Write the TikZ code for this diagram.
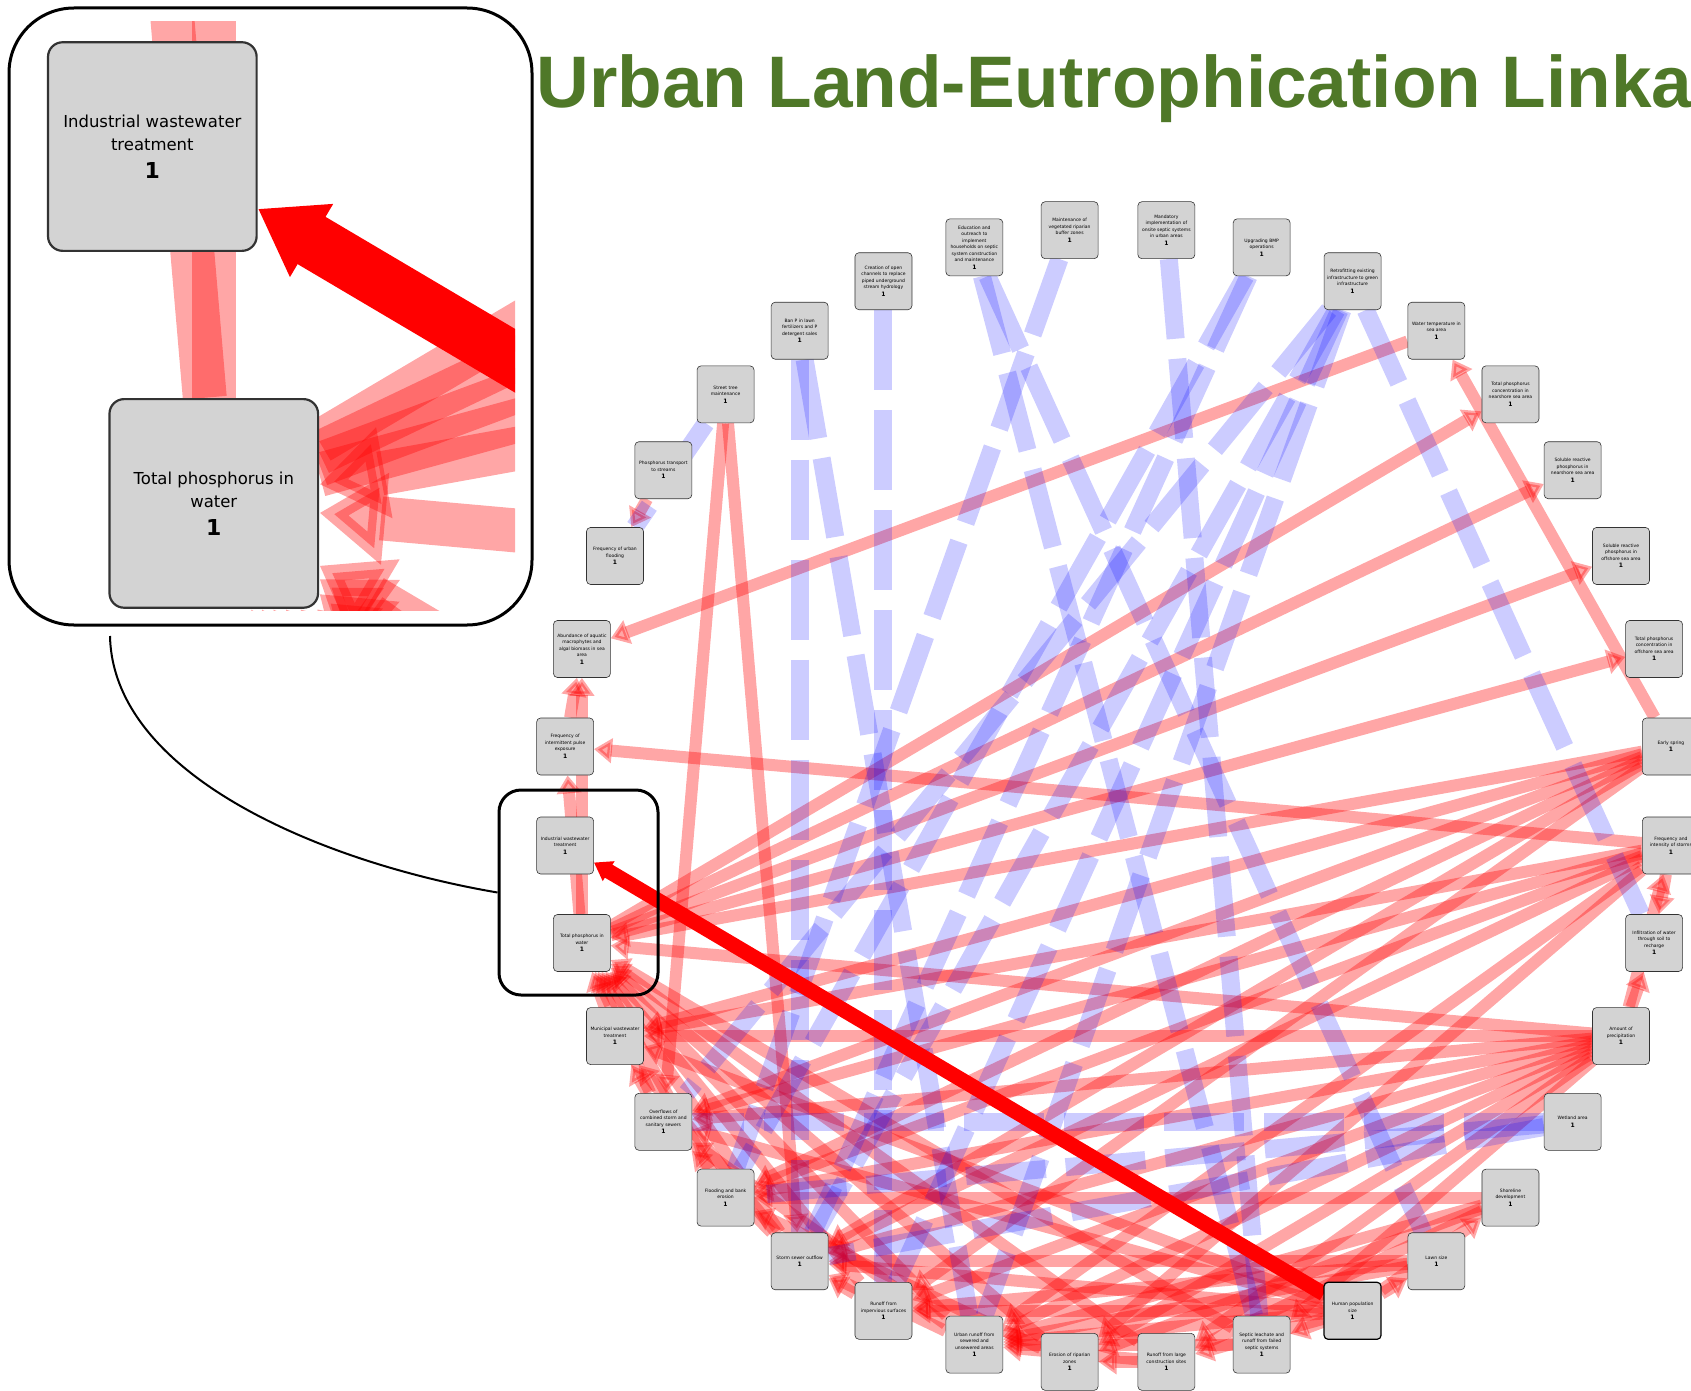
\documentclass[tikz,border=0pt]{standalone}
\usepackage{fontspec}
\newfontfamily\titlefont{Liberation Sans}
\newfontfamily\boxfont{DejaVu Sans}
\usetikzlibrary{arrows.meta}

\definecolor{titlegreen}{RGB}{79,120,40}
\definecolor{boxgray}{RGB}{211,211,211}

\tikzset{every picture/.style={line width=0.75pt},
  spot/.style={rectangle, minimum width=57pt, minimum height=57pt, inner sep=0pt},
  factor/.style={rectangle, rounded corners=4pt, fill=boxgray, draw=black!80, line width=0.6pt,
    minimum width=57pt, minimum height=57pt, inner sep=2pt, text width=51pt, align=flush center,
    font={\boxfont\fontsize{4.5}{6.5}\selectfont\hyphenpenalty=10000\relax\exhyphenpenalty=10000\relax}},
  poslink/.style={draw=red, opacity=0.35, line width=12pt, -{Triangle[width=24pt,length=18pt]}},
  neglink/.style={draw=blue, opacity=0.2, line width=18pt, dash pattern=on 80pt off 20pt},
  keylink/.style={draw=red, line width=15pt, -{Triangle[width=22pt,length=17pt]}},
  frame/.style={draw, line width=3pt},
}

\newif\ifzoomview

\newcommand\factorlist{%
{Education and outreach to implement households on septic system construction and maintenance},
{Maintenance of vegetated riparian buffer zones},
{Mandatory implementation of onsite septic systems in urban areas},
{Upgrading BMP operations},
{Retrofitting existing infrastructure to green infrastructure},
{Water temperature in sea area},
{Total phosphorus concentration in nearshore sea area},
{Soluble reactive phosphorus in nearshore sea area},
{Soluble reactive phosphorus in offshore sea area},
{Total phosphorus concentration in offshore sea area},
{Early spring},
{Frequency and intensity of storms},
{Infiltration of water through soil to recharge},
{Amount of precipitation},
{Wetland area},
{Shoreline development},
{Lawn size},
{Human population size},
{Septic leachate and runoff from failed septic systems},
{Runoff from large construction sites},
{Erosion of riparian zones},
{Urban runoff from sewered and unsewered areas},
{Runoff from impervious surfaces},
{Storm sewer outflow},
{Flooding and bank erosion},
{Overflows of combined storm and sanitary sewers},
{Municipal wastewater treatment},
{Total phosphorus in water},
{Industrial wastewater treatment},
{Frequency of intermittent pulse exposure},
{Abundance of aquatic macrophytes and algal biomass in sea area},
{Frequency of urban flooding},
{Phosphorus transport to streams},
{Street tree maintenance},
{Ban P in lawn fertilizers and P detergent sales},
{Creation of open channels to replace piped underground stream hydrology}}

% the whole web: spots, links, then the boxes on top
\newcommand\causalweb{%
  \foreach \k in {1,...,36}{%
    \pgfmathsetmacro\ang{115-10*\k}
    \node[spot] (n\k) at ({1118+555*cos(\ang)},{796-568*sin(\ang)}) {};
  }
  %Straight Lines
  \foreach \s/\t in {11/6, 6/31, 28/7, 28/8, 28/9, 28/10, 12/30, 12/13, 14/13, 14/12,
      11/28, 11/27, 11/26, 11/25, 11/24, 11/23,
      12/27, 12/26, 12/25, 12/24, 12/22, 12/21,
      14/28, 14/27, 14/26, 14/25, 14/24, 14/23, 14/22, 14/21, 14/20, 14/19,
      16/21, 16/22, 16/25, 16/20, 17/22, 17/23, 17/24,
      18/27, 18/26, 18/24, 18/23, 18/22, 18/20, 18/19, 18/16, 18/17,
      19/28, 20/28, 21/28, 22/28, 23/28, 24/28, 25/28, 26/28, 27/28,
      28/31, 30/31, 28/30, 34/26, 34/24, 33/32,
      19/22, 20/22, 23/24, 24/26, 22/26, 24/27, 26/27, 22/24, 20/21, 21/25}
    \draw[poslink] (n\s) -- (n\t);
  %Dashed Lines
  \foreach \s/\t in {1/19, 1/17, 2/25, 3/19, 4/24, 4/25, 5/13, 5/22, 5/23, 5/24, 5/26,
      35/24, 35/22, 36/23, 34/32, 15/26, 15/25, 15/24}
    \draw[neglink] (n\s) -- (n\t);
  \draw[keylink] (n18) -- (n29);
  % Text Node
  \foreach \txt [count=\k] in \factorlist {%
    \def\showbox{1}%
    \ifzoomview \ifnum\k<28 \def\showbox{0}\fi \ifnum\k>29 \def\showbox{0}\fi \fi
    \ifnum\k=18 \def\rim{black}\def\rimw{1.2pt}\else\def\rim{black!80}\def\rimw{0.6pt}\fi
    \ifnum\showbox=1
      \node[factor, draw=\rim, line width=\rimw] at (n\k) {\txt\\[1pt]{\fontsize{6}{7}\selectfont\bfseries 1}};
    \fi
  }%
}

\begin{document}
\begin{tikzpicture}[x=1pt,y=1pt,yscale=-1,xscale=1]
\useasboundingbox (0,0) rectangle (1691,1391);

\causalweb

%Shape: Rectangle around the two boxes
\node[frame, rounded corners=22pt, minimum width=159pt, minimum height=205pt] (zoomspot) at (578.5,892.5) {};

%Shape: magnified view
\begin{scope}
  \clip (22,22) rectangle (515,610);
  \begin{scope}[transform canvas={shift={(-1916pt,2948pt)},scale=3.66}]
    \zoomviewtrue
    \causalweb
  \end{scope}
\end{scope}
\node[frame, rounded corners=65pt, minimum width=523pt, minimum height=617pt] (lens) at (270.5,316.5) {};

%Curve Lines
\coordinate (lensfoot) at (110,636);
\draw[line width=2pt] (lensfoot) .. controls (113,776) and (324,863) .. (zoomspot.west);

% Text Node
\node[anchor=base west, inner sep=0pt, text=titlegreen, font=\titlefont\bfseries\fontsize{73}{80}\selectfont] (headline) at (536,108) {Urban Land-Eutrophication Linka};

\end{tikzpicture}
\end{document}
